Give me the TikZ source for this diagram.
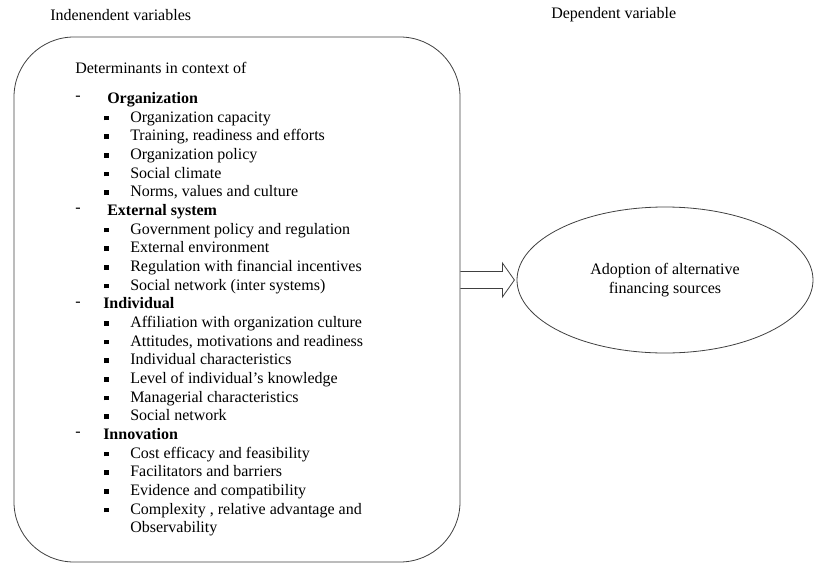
\documentclass[tikz,border=0pt]{standalone}
\usepackage{fontspec}
\setmainfont{Liberation Serif}
\usetikzlibrary{shapes.geometric}

\newcommand{\grp}[2][22.5pt]{\makebox[#1][l]{\raisebox{2pt}{-}}\textbf{#2}}
\newcommand{\itm}[1]{\hspace*{21.75pt}\makebox[19.5pt][l]{\rule[1.3pt]{3.6pt}{3.6pt}}#1}

\begin{document}
\begin{tikzpicture}[x=0.75pt,y=-0.75pt,
                    frame/.style={draw=black!75,line width=0.6pt},
                    txt/.style={font=\fontsize{12}{14}\selectfont,inner sep=0pt}]
                    \useasboundingbox (0,0) rectangle (814,564);
                    \node[txt,anchor=west] (indep) at (50,15) {Indenendent variables};
                    \node[txt,anchor=west] (dep) at (551,15) {Dependent variable};
                    \node[frame,rounded corners=45pt,minimum width=334.5pt,minimum height=393.75pt] (box) at (237,299.5) {};
                    \node[frame,ellipse,minimum width=222pt,minimum height=109.5pt] (adopt) at (665,280) {};
                    \node[txt,align=center] (adopttxt) at (adopt.center) {Adoption of alternative\\financing sources};
                    \node[txt,anchor=north west,align=left] (list) at (75,62) {Determinants in context of\\[8.5pt]
                        \grp[24pt]{Organization}\\
                        \itm{Organization capacity}\\
                        \itm{Training, readiness and efforts}\\
                        \itm{Organization policy}\\
                        \itm{Social climate}\\
                        \itm{Norms, values and culture}\\
                        \grp[24pt]{External system}\\
                        \itm{Government policy and regulation}\\
                        \itm{External environment}\\
                        \itm{Regulation with financial incentives}\\
                        \itm{Social network (inter systems)}\\
                        \grp[21pt]{Individual}\\
                        \itm{Affiliation with organization culture}\\
                        \itm{Attitudes, motivations and readiness}\\
                        \itm{Individual characteristics}\\
                        \itm{Level of individual’s knowledge}\\
                        \itm{Managerial characteristics}\\
                        \itm{Social network}\\
                        \grp[21pt]{Innovation}\\
                        \itm{Cost efficacy and feasibility}\\
                        \itm{Facilitators and barriers}\\
                        \itm{Evidence and compatibility}\\
                        \itm{Complexity , relative advantage and}\\
                        \hspace*{41.25pt}Observability};
                    \coordinate (tail) at (box.east |- adopt.west);
                    \draw[frame] (tail) ++(0,-8.5) -- ++(42,0) -- ++(0,-8.5) -- ++(12,17)
                        -- ++(-12,17) -- ++(0,-8.5) -- ++(-42,0);
                \end{tikzpicture}
\end{document}
